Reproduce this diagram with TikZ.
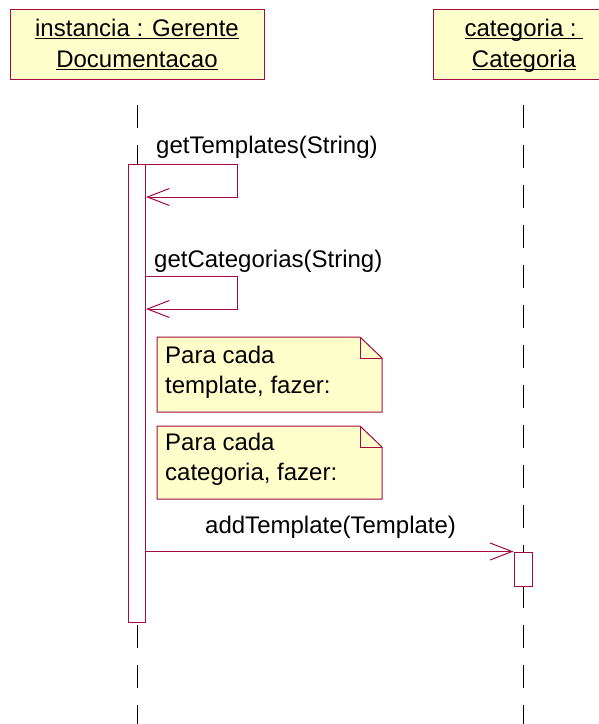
\documentclass[tikz,border=0pt]{standalone}
\usepackage{fontspec}
\setmainfont{Liberation Sans}
\usetikzlibrary{arrows.meta}
\definecolor{umlline}{RGB}{165,10,65}
\definecolor{umlfill}{RGB}{255,255,204}
\newsavebox\ulbox
\newcommand\myul[1]{\sbox\ulbox{#1}\rlap{\rule[-2.6pt]{\wd\ulbox}{0.9pt}}\usebox\ulbox}
\tikzset{
  headbox/.style={draw=umlline, fill=umlfill, line width=1pt, inner sep=0pt},
  lifeline/.style={draw=black, line width=1pt, dash pattern=on 23pt off 17pt},
  actbox/.style={draw=umlline, fill=white, line width=1pt, inner sep=0pt},
  msg/.style={draw=umlline, line width=1pt, -{Straight Barb[length=22pt,width=17pt,line width=1pt]}},
  notebox/.style={draw=umlline, fill=umlfill, line width=1pt, line join=miter},
  txt/.style={inner sep=0pt, anchor=base, font=\fontsize{24}{30}\selectfont, text=black},
  ltxt/.style={txt, anchor=base west}
}
\begin{document}
\begin{tikzpicture}[x=1pt,y=-1pt]
\useasboundingbox (0,0) rectangle (598,724);
% header boxes
\node[headbox, minimum width=254pt, minimum height=70pt] (h1) at (137,44) {};
\node[headbox, minimum width=180pt, minimum height=70pt] (h2) at (523,44) {};
\node[txt] (h1a) at (137,36) {\myul{instancia : Gerente}};
\node[txt] (h1b) at (137,67) {\myul{Documentacao}};
\node[txt] (h2a) at (524,36) {\myul{categoria :\ }};
\node[txt] (h2b) at (524,67) {\myul{Categoria}};
% lifelines
\coordinate (l1t) at (137,105);
\coordinate (l1b) at (137,730);
\coordinate (l2t) at (523,105);
\coordinate (l2b) at (523,730);
\draw[lifeline] (l1t) -- (l1b);
\draw[lifeline] (l2t) -- (l2b);
% activations
\node[actbox, minimum width=17pt, minimum height=458pt] (act1) at (136.5,393) {};
\node[actbox, minimum width=18pt, minimum height=34pt] (act2) at (523,569) {};
% self messages
\coordinate (s1a) at (145,164);
\coordinate (s1b) at (146,197);
\draw[msg] (s1a) -- ++(92,0) |- (s1b);
\node[ltxt] (m1) at (156,153) {getTemplates(String)};
\coordinate (s2a) at (145,276);
\coordinate (s2b) at (146,309);
\draw[msg] (s2a) -- ++(92,0) |- (s2b);
\node[ltxt] (m2) at (154,267) {getCategorias(String)};
% notes
\draw[notebox] (157,337) -- (360,337) -- (382,358) -- (382,412) -- (157,412) -- cycle;
\draw[umlline, line width=1pt] (360,337) -- (360,358) -- (382,358);
\node[ltxt] (n1a) at (165,363) {Para cada};
\node[ltxt] (n1b) at (165,393) {template, fazer:};
\draw[notebox] (157,426) -- (360,426) -- (382,447) -- (382,499) -- (157,499) -- cycle;
\draw[umlline, line width=1pt] (360,426) -- (360,447) -- (382,447);
\node[ltxt] (n2a) at (165,450) {Para cada};
\node[ltxt] (n2b) at (165,480) {categoria, fazer:};
% call
\draw[msg] (act1.east |- act2.north) -- (act2.north west);
\node[ltxt] (m3) at (205,533) {addTemplate(Template)};
\end{tikzpicture}
\end{document}
